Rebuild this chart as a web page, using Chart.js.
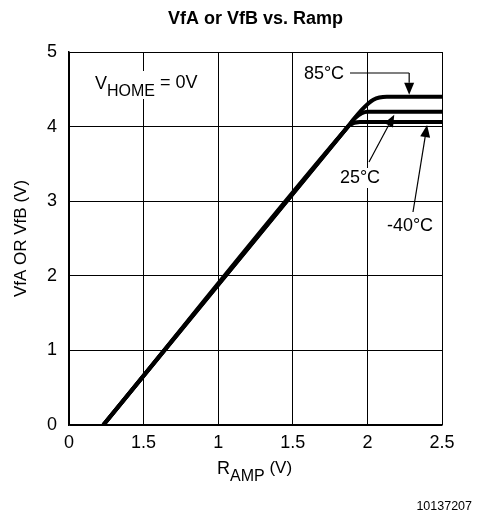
<!DOCTYPE html>
<html>
<head>
<meta charset="utf-8">
<script src="https://cdn.jsdelivr.net/npm/chart.js@4.4.1/dist/chart.umd.min.js"></script>
<style>
  html, body { margin: 0; padding: 0; background: #fff; }
  #wrap { width: 485px; height: 514px; position: relative; }
</style>
</head>
<body>
<div id="wrap"><canvas id="rampChart" width="485" height="514"></canvas></div>
<script>
// --- DATA ---
const xTickValues = [0, 0.5, 1, 1.5, 2, 2.5];
const xTickLabels = ['0', '1.5', '1', '1.5', '2', '2.5'];
const yTickValues = [0, 1, 2, 3, 4, 5];

const ramp85 = [0.23, 1.87, 1.96, 2.04, 2.13, 2.5];
const vf85   = [0,    4.0,  4.22, 4.36, 4.4,  4.4];

const ramp25 = [0.23, 1.87, 1.92, 2.0, 2.5];
const vf25   = [0,    4.0,  4.12, 4.2, 4.2];

const rampM40 = [0.23, 1.84, 1.88, 1.95, 2.5];
const vfM40   = [0,    3.93, 4.02, 4.06, 4.06];

const FONT = '"Liberation Sans", Arial, sans-serif';

function toPoints(xs, ys) {
    return xs.map((x, i) => ({ x: x, y: ys[i] }));
}

function series(xs, ys) {
    return {
        data: toPoints(xs, ys),
        showLine: true,
        borderColor: '#000',
        borderWidth: 4,
        pointRadius: 0,
        cubicInterpolationMode: 'monotone',
        fill: false
    };
}

// --- TEXT + ARROWS ---
function arrow(ctx, x1, y1, x2, y2) {
    const ang = Math.atan2(y2 - y1, x2 - x1);
    const len = 12, half = 5;
    ctx.beginPath();
    ctx.moveTo(x1, y1);
    ctx.lineTo(x2 - Math.cos(ang) * len, y2 - Math.sin(ang) * len);
    ctx.stroke();
    ctx.beginPath();
    ctx.moveTo(x2, y2);
    ctx.lineTo(x2 - Math.cos(ang) * len - Math.sin(ang) * half, y2 - Math.sin(ang) * len + Math.cos(ang) * half);
    ctx.lineTo(x2 - Math.cos(ang) * len + Math.sin(ang) * half, y2 - Math.sin(ang) * len - Math.cos(ang) * half);
    ctx.closePath();
    ctx.fill();
}

function boxedText(ctx, text, x, y) {
    const w = ctx.measureText(text).width;
    ctx.fillStyle = '#fff';
    ctx.fillRect(x - w / 2 - 2, y - 10, w + 4, 20);
    ctx.fillStyle = '#000';
    ctx.fillText(text, x, y);
}

const notes = {
    id: 'notes',
    afterDatasetsDraw(chart) {
        const ctx = chart.ctx;
        const xs = chart.scales.x, ys = chart.scales.y;
        const area = chart.chartArea;
        ctx.save();
        ctx.fillStyle = '#000';
        ctx.strokeStyle = '#000';
        ctx.lineWidth = 1.2;

        // title
        ctx.font = 'bold 18px ' + FONT;
        ctx.textAlign = 'center';
        ctx.textBaseline = 'middle';
        ctx.fillText('VfA or VfB vs. Ramp', (area.left + area.right) / 2, 19);

        // V_HOME = 0V
        ctx.textAlign = 'left';
        ctx.textBaseline = 'alphabetic';
        const vx = area.left + 26, vy = 89;
        ctx.font = '18px ' + FONT;
        const wV = ctx.measureText('V').width;
        ctx.font = '16px ' + FONT;
        const wH = ctx.measureText('HOME').width;
        ctx.fillStyle = '#fff';
        ctx.fillRect(vx - 3, vy - 18, wV + wH + 52, 28);
        ctx.fillStyle = '#000';
        ctx.font = '18px ' + FONT;
        ctx.fillText('V', vx, vy);
        ctx.font = '16px ' + FONT;
        ctx.fillText('HOME', vx + wV, vy + 7);
        ctx.font = '18px ' + FONT;
        ctx.fillText(' = 0V', vx + wV + wH, vy - 1);

        // temperature labels
        ctx.font = '18px ' + FONT;
        ctx.textAlign = 'center';
        ctx.textBaseline = 'middle';
        // 85°C
        const t85x = xs.getPixelForValue(2.28), t85y = ys.getPixelForValue(4.4) - 2;
        boxedText(ctx, '85°C', 324, 74);
        ctx.beginPath();
        ctx.moveTo(350, 73);
        ctx.lineTo(t85x, 73);
        ctx.stroke();
        arrow(ctx, t85x, 73, t85x, t85y);
        // 25°C
        const t25x = xs.getPixelForValue(2.18), t25y = ys.getPixelForValue(4.2) + 3;
        boxedText(ctx, '25°C', 360, 178);
        arrow(ctx, 369, 162, t25x, t25y);
        // -40°C
        const t40x = xs.getPixelForValue(2.4), t40y = ys.getPixelForValue(4.06) + 3;
        boxedText(ctx, '-40°C', 410, 226);
        arrow(ctx, 413, 212, t40x, t40y);

        // axis titles
        ctx.font = '17px ' + FONT;
        ctx.save();
        ctx.translate(21, (area.top + area.bottom) / 2);
        ctx.rotate(-Math.PI / 2);
        ctx.fillText('VfA OR VfB (V)', 0, 0);
        ctx.restore();

        ctx.textAlign = 'left';
        ctx.textBaseline = 'alphabetic';
        const rx = 217, ry = 474;
        ctx.font = '18px ' + FONT;
        const wR = ctx.measureText('R').width;
        ctx.fillText('R', rx, ry);
        ctx.font = '16px ' + FONT;
        const wA = ctx.measureText('AMP').width;
        ctx.fillText('AMP', rx + wR, ry + 7);
        ctx.font = '17px ' + FONT;
        ctx.fillText(' (V)', rx + wR + wA, ry - 1);

        // figure number
        ctx.font = '12.5px ' + FONT;
        ctx.textAlign = 'right';
        ctx.fillText('10137207', 472, 510);
        ctx.restore();
    }
};

// --- CHART ---
new Chart(document.getElementById('rampChart'), {
    type: 'scatter',
    data: {
        datasets: [series(ramp85, vf85), series(ramp25, vf25), series(rampM40, vfM40)]
    },
    options: {
        responsive: false,
        animation: false,
        events: [],
        layout: { padding: { top: 52, right: 43, left: 0, bottom: 0 } },
        plugins: { legend: { display: false }, tooltip: { enabled: false } },
        scales: {
            x: {
                type: 'linear',
                min: 0, max: 2.5,
                afterFit: s => { s.height = 89; },
                afterBuildTicks: s => { s.ticks = xTickValues.map(v => ({ value: v })); },
                grid: { color: '#000', lineWidth: 1, drawTicks: false },
                border: { color: '#000', width: 1.5 },
                ticks: {
                    color: '#000', padding: 7,
                    font: { family: FONT, size: 18 },
                    maxRotation: 0,
                    callback: (v, i) => xTickLabels[i]
                }
            },
            y: {
                type: 'linear',
                min: 0, max: 5,
                afterFit: s => { s.width = 69; },
                afterBuildTicks: s => { s.ticks = yTickValues.map(v => ({ value: v })); },
                grid: { color: '#000', lineWidth: 1, drawTicks: false },
                border: { color: '#000', width: 1.5 },
                ticks: {
                    color: '#000', padding: 12,
                    font: { family: FONT, size: 18 },
                    callback: v => String(v)
                }
            }
        }
    },
    plugins: [notes]
});
</script>
</body>
</html>
